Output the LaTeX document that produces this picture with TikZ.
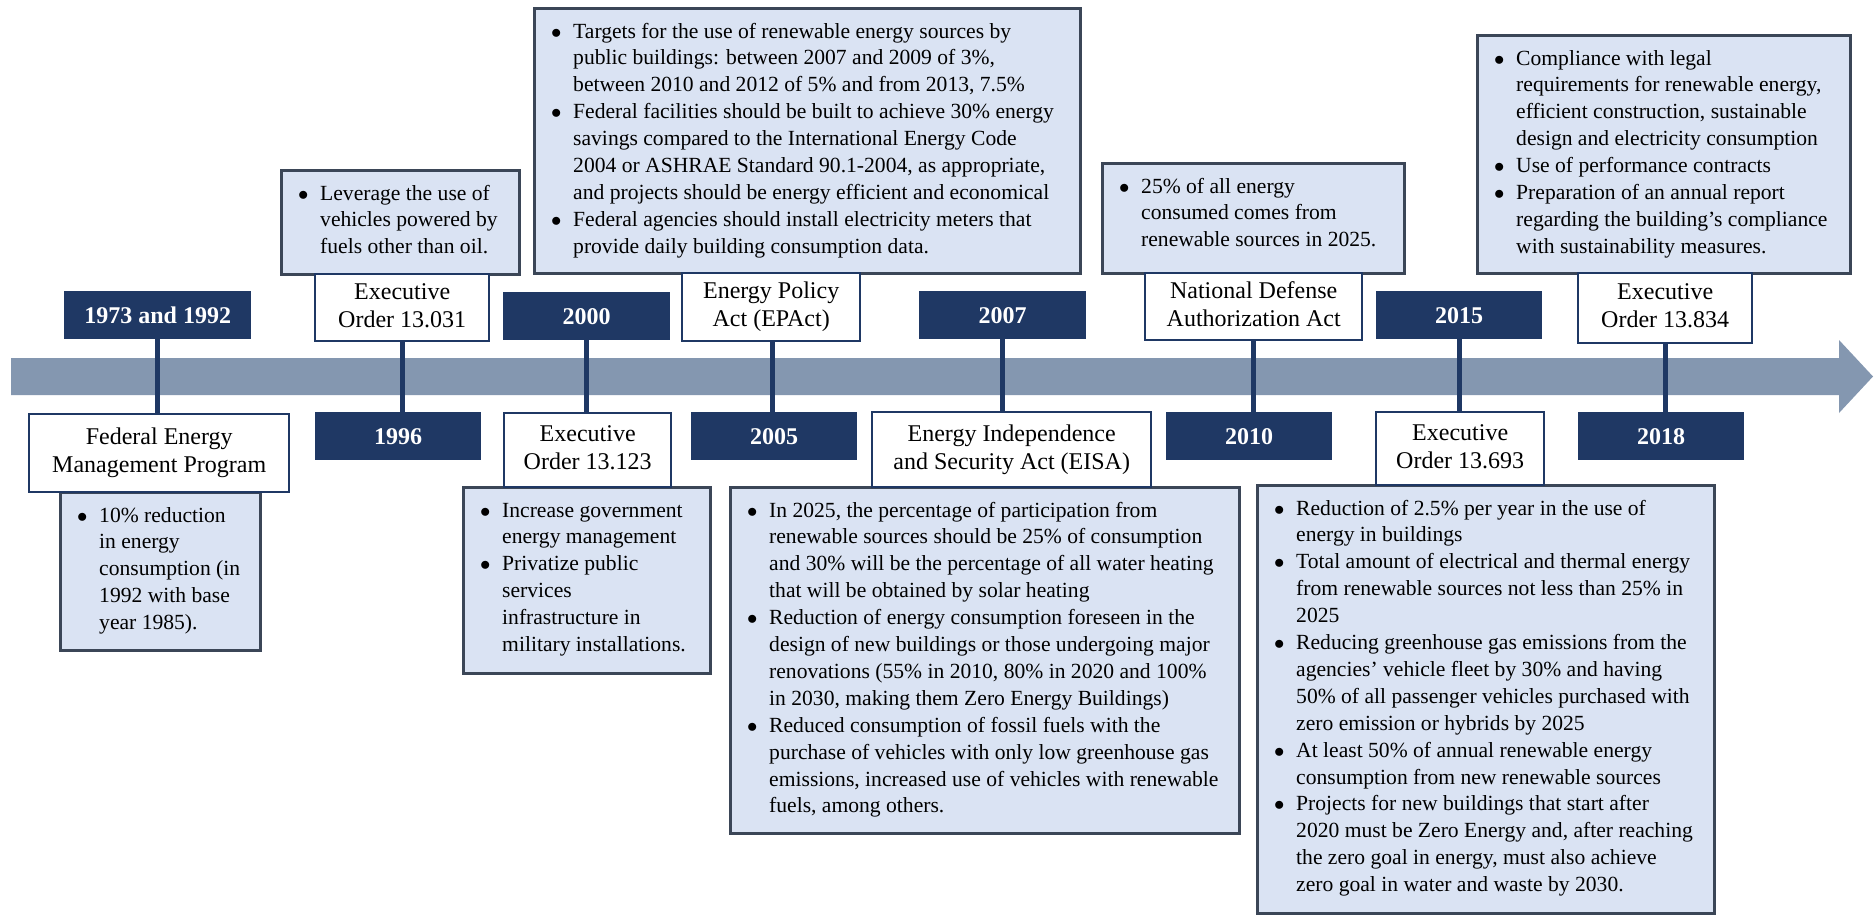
\documentclass[tikz,border=0pt]{standalone}
\usepackage{fontspec}
\setmainfont{Liberation Serif}
\definecolor{navy}{HTML}{1F3864}
\definecolor{bandc}{HTML}{8497B0}
\definecolor{lfill}{HTML}{DAE3F3}
\definecolor{ldraw}{HTML}{3B4657}
\newcommand\yrfont{\fontsize{24}{28}\selectfont\bfseries}
\newcommand\ttlfont{\fontsize{24}{27.7}\selectfont}
\newcommand\bdfont{\fontsize{21.6}{26.9}\selectfont}
\newcommand\bul{\makebox[22pt][l]{$\bullet$}}
\newcommand\ind{\hspace*{22pt}}
\begin{document}
\begin{tikzpicture}[x=1pt,y=-1pt,
  ybox/.style={fill=navy,draw=none,text=white,font=\yrfont,anchor=north west,inner sep=0pt},
  tbox/.style={fill=white,draw=navy,line width=2.4pt,font=\ttlfont,anchor=north west,inner sep=0pt},
  lbox/.style={fill=lfill,draw=ldraw,line width=2.6pt,anchor=north west,inner sep=0pt},
  ltext/.style={anchor=north west,inner sep=0pt,font=\bdfont,text=black},
  conn/.style={draw=navy,line width=4.6pt}]
\useasboundingbox (0,0) rectangle (1874,915);
\fill[white] (0,0) rectangle (1874,915);
% timeline band
\fill[bandc] (11,358) -- (1839,358) -- (1839,340) -- (1873,376.5) -- (1839,413) -- (1839,395) -- (11,395) -- cycle;

% year boxes
\node[ybox,minimum width=187pt,minimum height=48pt] (y1973) at (64,291) {1973 and 1992};
\node[ybox,minimum width=166pt,minimum height=48pt] (y1996) at (315,412) {1996};
\node[ybox,minimum width=167pt,minimum height=48pt] (y2000) at (503,292) {2000};
\node[ybox,minimum width=166pt,minimum height=48pt] (y2005) at (691,412) {2005};
\node[ybox,minimum width=167pt,minimum height=48pt] (y2007) at (919,291) {2007};
\node[ybox,minimum width=166pt,minimum height=48pt] (y2010) at (1166,412) {2010};
\node[ybox,minimum width=166pt,minimum height=48pt] (y2015) at (1376,291) {2015};
\node[ybox,minimum width=166pt,minimum height=48pt] (y2018) at (1578,412) {2018};

% light boxes
\node[lbox,minimum width=200pt,minimum height=158pt] (l1973) at (59,491) {};
\node[lbox,minimum width=238pt,minimum height=104pt] (l1996) at (280,169) {};
\node[lbox,minimum width=247pt,minimum height=186pt] (l2000) at (462,486) {};
\node[lbox,minimum width=546pt,minimum height=265pt] (l2005) at (533,7) {};
\node[lbox,minimum width=509pt,minimum height=346pt] (l2007) at (729,486) {};
\node[lbox,minimum width=302pt,minimum height=110pt] (l2010) at (1101,162) {};
\node[lbox,minimum width=457pt,minimum height=428pt] (l2015) at (1256,484) {};
\node[lbox,minimum width=373pt,minimum height=238pt] (l2018) at (1476,34) {};

% title boxes
\node[tbox,minimum width=260pt,minimum height=78pt] (w1973) at (28,413) {\begin{tabular}{@{}c@{}}Federal Energy\\Management Program\end{tabular}};
\node[tbox,minimum width=174pt,minimum height=67pt] (w1996) at (314,273) {\begin{tabular}{@{}c@{}}Executive\\Order 13.031\end{tabular}};
\node[tbox,minimum width=167pt,minimum height=74pt] (w2000) at (503,412) {\begin{tabular}{@{}c@{}}Executive\\Order 13.123\end{tabular}};
\node[tbox,minimum width=178pt,minimum height=68pt] (w2005) at (681,272) {\begin{tabular}{@{}c@{}}Energy Policy\\Act (EPAct)\end{tabular}};
\node[tbox,minimum width=279pt,minimum height=75pt] (w2007) at (871,411) {\begin{tabular}{@{}c@{}}Energy Independence\\and Security Act (EISA)\end{tabular}};
\node[tbox,minimum width=217pt,minimum height=67pt] (w2010) at (1144,272) {\begin{tabular}{@{}c@{}}National Defense\\Authorization Act\end{tabular}};
\node[tbox,minimum width=168pt,minimum height=73pt] (w2015) at (1375,411) {\begin{tabular}{@{}c@{}}Executive\\Order 13.693\end{tabular}};
\node[tbox,minimum width=174pt,minimum height=70pt] (w2018) at (1577,272) {\begin{tabular}{@{}c@{}}Executive\\Order 13.834\end{tabular}};

% bullet texts
\node[ltext] (t1973) at (77,503) {\begin{tabular}{@{}l@{}}
\bul 10\% reduction\\
\ind in energy\\
\ind consumption (in\\
\ind 1992 with base\\
\ind year 1985).\end{tabular}};
\node[ltext] (t1996) at (298,181) {\begin{tabular}{@{}l@{}}
\bul Leverage the use of\\
\ind vehicles powered by\\
\ind fuels other than oil.\end{tabular}};
\node[ltext] (t2000) at (480,498) {\begin{tabular}{@{}l@{}}
\bul Increase government\\
\ind energy management\\
\bul Privatize public\\
\ind services\\
\ind infrastructure in\\
\ind military installations.\end{tabular}};
\node[ltext] (t2005) at (551,19) {\begin{tabular}{@{}l@{}}
\bul Targets for the use of renewable energy sources by\\
\ind public buildings: between 2007 and 2009 of 3\%,\\
\ind between 2010 and 2012 of 5\% and from 2013, 7.5\%\\
\bul Federal facilities should be built to achieve 30\% energy\\
\ind savings compared to the International Energy Code\\
\ind 2004 or ASHRAE Standard 90.1-2004, as appropriate,\\
\ind and projects should be energy efficient and economical\\
\bul Federal agencies should install electricity meters that\\
\ind provide daily building consumption data.\end{tabular}};
\node[ltext] (t2007) at (747,498) {\begin{tabular}{@{}l@{}}
\bul In 2025, the percentage of participation from\\
\ind renewable sources should be 25\% of consumption\\
\ind and 30\% will be the percentage of all water heating\\
\ind that will be obtained by solar heating\\
\bul Reduction of energy consumption foreseen in the\\
\ind design of new buildings or those undergoing major\\
\ind renovations (55\% in 2010, 80\% in 2020 and 100\%\\
\ind in 2030, making them Zero Energy Buildings)\\
\bul Reduced consumption of fossil fuels with the\\
\ind purchase of vehicles with only low greenhouse gas\\
\ind emissions, increased use of vehicles with renewable\\
\ind fuels, among others.\end{tabular}};
\node[ltext] (t2010) at (1119,174) {\begin{tabular}{@{}l@{}}
\bul 25\% of all energy\\
\ind consumed comes from\\
\ind renewable sources in 2025.\end{tabular}};
\node[ltext] (t2015) at (1274,496) {\begin{tabular}{@{}l@{}}
\bul Reduction of 2.5\% per year in the use of\\
\ind energy in buildings\\
\bul Total amount of electrical and thermal energy\\
\ind from renewable sources not less than 25\% in\\
\ind 2025\\
\bul Reducing greenhouse gas emissions from the\\
\ind agencies' vehicle fleet by 30\% and having\\
\ind 50\% of all passenger vehicles purchased with\\
\ind zero emission or hybrids by 2025\\
\bul At least 50\% of annual renewable energy\\
\ind consumption from new renewable sources\\
\bul Projects for new buildings that start after\\
\ind 2020 must be Zero Energy and, after reaching\\
\ind the zero goal in energy, must also achieve\\
\ind zero goal in water and waste by 2030.\end{tabular}};
\node[ltext] (t2018) at (1494,46) {\begin{tabular}{@{}l@{}}
\bul Compliance with legal\\
\ind requirements for renewable energy,\\
\ind efficient construction, sustainable\\
\ind design and electricity consumption\\
\bul Use of performance contracts\\
\bul Preparation of an annual report\\
\ind regarding the building's compliance\\
\ind with sustainability measures.\end{tabular}};

% connectors
\draw[conn] (y1973.south) -- (y1973.south |- w1973.north);
\draw[conn] (w1996.south) -- (w1996.south |- y1996.north);
\draw[conn] (y2000.south) -- (y2000.south |- w2000.north);
\draw[conn] ([xshift=1pt]w2005.south) -- ([xshift=1pt]w2005.south |- y2005.north);
\draw[conn] (y2007.south) -- (y2007.south |- w2007.north);
\draw[conn] (w2010.south) -- (w2010.south |- y2010.north);
\draw[conn] (y2015.south) -- (y2015.south |- w2015.north);
\draw[conn] (w2018.south) -- (w2018.south |- y2018.north);
\end{tikzpicture}
\end{document}
